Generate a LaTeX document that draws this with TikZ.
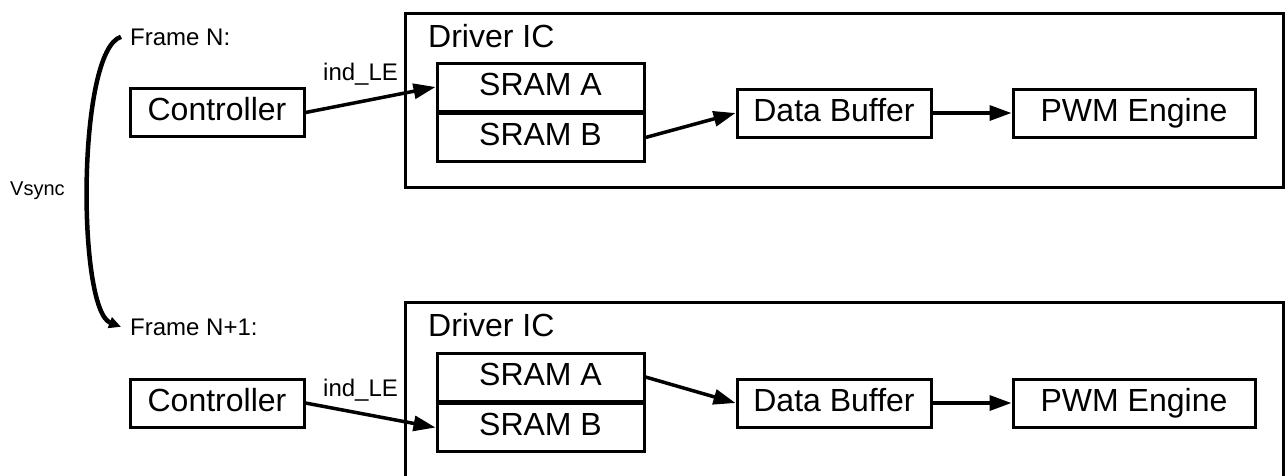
\documentclass[tikz,border=0pt]{standalone}
\usepackage{fontspec}
\setmainfont{Liberation Sans}
\usetikzlibrary{arrows.meta}
\newcommand{\blockfont}{\fontsize{32}{38}\selectfont}
\newcommand{\labelfont}{\fontsize{24}{29}\selectfont}
\newcommand{\syncfont}{\fontsize{20}{24}\selectfont}

\begin{document}
\begin{tikzpicture}[x=1pt, y=-1pt,
  block/.style={draw, line width=3pt, minimum height=48pt, inner sep=0pt,
    text height=23pt, text depth=6.5pt, font=\blockfont},
  chip/.style={draw, line width=3pt, minimum width=878pt, minimum height=174pt},
  lbl/.style={anchor=base west, inner sep=0pt, font=\labelfont},
  flow/.style={line width=3.5pt, -{Triangle[length=22pt,width=15pt]}}]
\clip (0,0) rectangle (1287,475);

% Frame N
\node[lbl] (frameA) at (130,45) {Frame N:};
\node[chip] (icA) at (844,100) {};
\node[lbl, font=\blockfont] (icnameA) at (428,47) {Driver IC};
\node[block, minimum width=174pt] (ctrlA) at (217,112.5) {Controller};
\node[block, minimum width=207pt] (sramAa) at (540.5,87) {SRAM A};
\node[block, minimum width=207pt] (sramBa) at (540.5,137.5) {SRAM B};
\node[block, minimum width=194pt] (bufA) at (834,113) {Data Buffer};
\node[block, minimum width=242pt] (pwmA) at (1134,113) {PWM Engine};
\node[lbl] (leA) at (323,80) {ind\_LE};
\draw[flow] (ctrlA.east) -- (sramAa.west);
\draw[flow] (sramBa.east) -- (bufA.west);
\draw[flow] (bufA.east) -- (pwmA.west);

% Frame N+1
\node[lbl] (frameB) at (130,335) {Frame N+1:};
\node[chip, minimum height=180pt] (icB) at (844,392) {};
\node[lbl, font=\blockfont] (icnameB) at (428,336) {Driver IC};
\node[block, minimum width=174pt] (ctrlB) at (217,403) {Controller};
\node[block, minimum width=207pt] (sramAb) at (540.5,377) {SRAM A};
\node[block, minimum width=207pt] (sramBb) at (540.5,427.5) {SRAM B};
\node[block, minimum width=194pt] (bufB) at (834,403) {Data Buffer};
\node[block, minimum width=242pt] (pwmB) at (1134,403) {PWM Engine};
\node[lbl] (leB) at (323,396) {ind\_LE};
\draw[flow] (ctrlB.east) -- (sramBb.west);
\draw[flow] (sramAb.east) -- (bufB.west);
\draw[flow] (bufB.east) -- (pwmB.west);

% Vsync hand-over between the frames
\node[lbl, font=\syncfont] (vsync) at (10,195) {Vsync};
\draw[line width=4.5pt, -{Triangle[length=12pt,width=11pt]}]
  ([xshift=-9]frameA.west) .. controls (77,50) and (77,310) .. ([xshift=-9]frameB.west);
\end{tikzpicture}
\end{document}
